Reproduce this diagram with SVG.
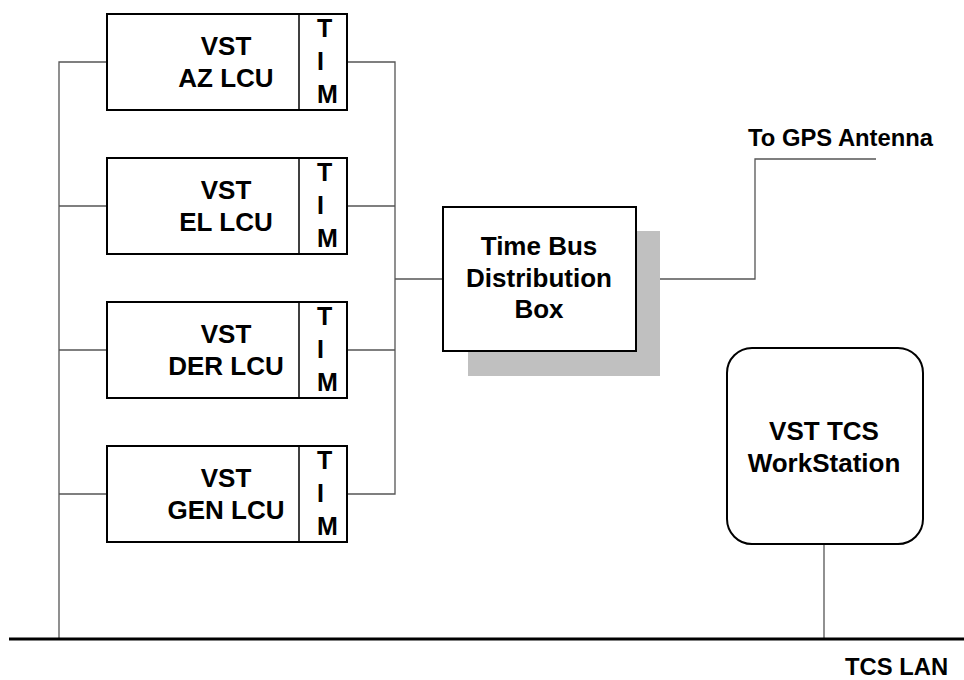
<svg xmlns="http://www.w3.org/2000/svg" width="964" height="680" viewBox="0 0 964 680">
<style>
.box{fill:#fff;stroke:#000;stroke-width:2}
.div{stroke:#000;stroke-width:1.5}
.wire{fill:none;stroke:#555;stroke-width:1.3}
.lan{stroke:#000;stroke-width:3}
.t{font-family:"Liberation Sans",Arial,sans-serif;font-weight:bold;font-size:26px;fill:#000;text-anchor:middle}
.tim{font-family:"Liberation Sans",Arial,sans-serif;font-weight:bold;font-size:25px;fill:#000}
.lbl{font-family:"Liberation Sans",Arial,sans-serif;font-weight:bold;font-size:23.8px;fill:#000}
</style>
<rect width="964" height="680" fill="#fff"/>
<g id="connectors">
<polyline class="wire" points="107,62 59,62 59,639"/>
<line class="wire" x1="59" y1="206" x2="107" y2="206"/>
<line class="wire" x1="59" y1="350" x2="107" y2="350"/>
<line class="wire" x1="59" y1="494" x2="107" y2="494"/>
<polyline class="wire" points="347,62 395,62 395,494 347,494"/>
<line class="wire" x1="347" y1="206" x2="395" y2="206"/>
<line class="wire" x1="347" y1="350" x2="395" y2="350"/>
<line class="wire" x1="395" y1="279" x2="443" y2="279"/>
<polyline class="wire" points="636,279 755,279 755,159 876,159"/>
<line class="wire" x1="824" y1="544" x2="824" y2="639"/>
<line class="lan" x1="9" y1="639" x2="964" y2="639"/>
</g>
<g id="az-lcu">
<rect class="box" x="107" y="14" width="240" height="96"/>
<line class="div" x1="299" y1="14" x2="299" y2="110"/>
<text class="t" x="226" y="55">VST</text>
<text class="t" x="226" y="87">AZ LCU</text>
<text class="tim" x="317" y="37">T</text>
<text class="tim" x="317" y="70">I</text>
<text class="tim" x="317" y="103">M</text>
</g>
<g id="el-lcu">
<rect class="box" x="107" y="158" width="240" height="96"/>
<line class="div" x1="299" y1="158" x2="299" y2="254"/>
<text class="t" x="226" y="199">VST</text>
<text class="t" x="226" y="231">EL LCU</text>
<text class="tim" x="317" y="181">T</text>
<text class="tim" x="317" y="214">I</text>
<text class="tim" x="317" y="247">M</text>
</g>
<g id="der-lcu">
<rect class="box" x="107" y="302" width="240" height="96"/>
<line class="div" x1="299" y1="302" x2="299" y2="398"/>
<text class="t" x="226" y="343">VST</text>
<text class="t" x="226" y="375">DER LCU</text>
<text class="tim" x="317" y="325">T</text>
<text class="tim" x="317" y="358">I</text>
<text class="tim" x="317" y="391">M</text>
</g>
<g id="gen-lcu">
<rect class="box" x="107" y="446" width="240" height="96"/>
<line class="div" x1="299" y1="446" x2="299" y2="542"/>
<text class="t" x="226" y="487">VST</text>
<text class="t" x="226" y="519">GEN LCU</text>
<text class="tim" x="317" y="469">T</text>
<text class="tim" x="317" y="502">I</text>
<text class="tim" x="317" y="535">M</text>
</g>
<g id="time-bus">
<rect x="468" y="231" width="192" height="145" fill="#c0c0c0"/>
<rect class="box" x="443" y="207" width="193" height="144"/>
<text class="t" x="539" y="255">Time Bus</text>
<text class="t" x="539" y="287">Distribution</text>
<text class="t" x="539" y="318">Box</text>
</g>
<g id="workstation">
<rect class="box" x="727" y="348" width="196" height="196" rx="25" ry="25"/>
<text class="t" x="824" y="440">VST TCS</text>
<text class="t" x="824" y="472">WorkStation</text>
</g>
<g id="labels">
<text class="lbl" x="748" y="146">To GPS Antenna</text>
<text class="lbl" x="845" y="675">TCS LAN</text>
</g>
</svg>
